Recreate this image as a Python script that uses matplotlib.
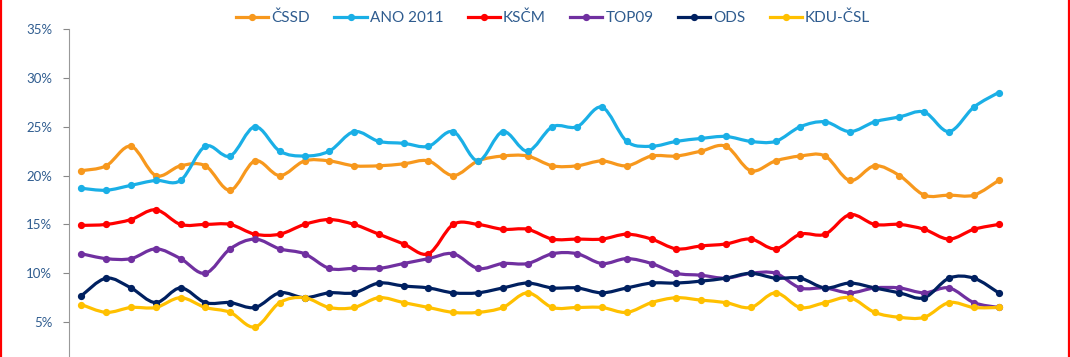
import matplotlib
matplotlib.use("Agg")
import matplotlib.pyplot as plt
import numpy as np
from matplotlib.path import Path
from matplotlib.patches import PathPatch
from matplotlib.lines import Line2D
from matplotlib.ticker import FuncFormatter

plt.rcParams["font.family"] = ["Lato", "DejaVu Sans"]

# průzkumy – 38 měření
PARTIES = ["ČSSD", "ANO 2011", "KSČM", "TOP09", "ODS", "KDU-ČSL"]
COLORS = ["#F7981D", "#1AAFE6", "#FF0000", "#7030A0", "#002060", "#FFC000"]

cssd = [20.5, 21, 23, 20, 21, 21, 18.5, 21.5, 20, 21.5,
        21.5, 21, 21, 21.2, 21.5, 20, 21.5, 22, 22, 21,
        21, 21.5, 21, 22, 22, 22.5, 23, 20.5, 21.5, 22,
        22, 19.5, 21, 20, 18, 18, 18, 19.5]
ano = [18.7, 18.5, 19, 19.5, 19.5, 23, 22, 25, 22.5, 22,
       22.5, 24.5, 23.5, 23.3, 23, 24.5, 21.5, 24.5, 22.5, 25,
       25, 27, 23.5, 23, 23.5, 23.8, 24, 23.5, 23.5, 25,
       25.5, 24.5, 25.5, 26, 26.5, 24.5, 27, 28.5]
kscm = [14.9, 15, 15.5, 16.5, 15, 15, 15, 14, 14, 15,
        15.5, 15, 14, 13, 12, 15, 15, 14.5, 14.5, 13.5,
        13.5, 13.5, 14, 13.5, 12.5, 12.8, 13, 13.5, 12.5, 14,
        14, 16, 15, 15, 14.5, 13.5, 14.5, 15]
top09 = [12, 11.5, 11.5, 12.5, 11.5, 10, 12.5, 13.5, 12.5, 12,
         10.5, 10.5, 10.5, 11, 11.5, 12, 10.5, 11, 11, 12,
         12, 11, 11.5, 11, 10, 9.8, 9.5, 10, 10, 8.5,
         8.5, 8, 8.5, 8.5, 8, 8.5, 7, 6.5]
ods = [7.7, 9.5, 8.5, 7, 8.5, 7, 7, 6.5, 8, 7.5,
       8, 8, 9, 8.7, 8.5, 8, 8, 8.5, 9, 8.5,
       8.5, 8, 8.5, 9, 9, 9.2, 9.5, 10, 9.5, 9.5,
       8.5, 9, 8.5, 8, 7.5, 9.5, 9.5, 8]
kdu = [6.8, 6, 6.5, 6.5, 7.5, 6.5, 6, 4.5, 7, 7.5,
       6.5, 6.5, 7.5, 7, 6.5, 6, 6, 6.5, 8, 6.5,
       6.5, 6.5, 6, 7, 7.5, 7.25, 7, 6.5, 8, 6.5,
       7, 7.5, 6, 5.5, 5.5, 7, 6.5, 6.5]

SERIES = [cssd, ano, kscm, top09, ods, kdu]
TEXT_COLOR = "#2F5C8F"


def _smooth_path(x, y):
    """Vyhlazená čára jako v Excelu (Catmull-Rom -> Bezier)."""
    pts = np.column_stack([x, y]).astype(float)
    n = len(pts)
    verts = [pts[0]]
    codes = [Path.MOVETO]
    for i in range(n - 1):
        p0 = pts[i - 1] if i > 0 else pts[i]
        p1 = pts[i]
        p2 = pts[i + 1]
        p3 = pts[i + 2] if i + 2 < n else pts[i + 1]
        c1 = p1 + (p2 - p0) / 6.0
        c2 = p2 - (p3 - p1) / 6.0
        verts += [c1, c2, p2]
        codes += [Path.CURVE4] * 3
    return Path(verts, codes)


fig = plt.figure(figsize=(10.7, 3.57), dpi=100)
ax = fig.add_axes([69 / 1070, -14 / 357, 942 / 1070, 342 / 357])

x = np.arange(len(cssd))
handles = []
for name, vals, col in zip(PARTIES, SERIES, COLORS):
    vals = np.array(vals) / 100.0
    ax.add_patch(PathPatch(_smooth_path(x, vals), facecolor="none", edgecolor=col,
                           lw=2.3, capstyle="round", joinstyle="round"))
    ax.plot(x, vals, ls="none", marker="o", ms=4.2, color=col)
    handles.append(Line2D([0], [0], color=col, lw=2.3, marker="o", ms=4.2))

ax.set_xlim(-0.5, len(cssd) - 0.5)
ax.set_ylim(0, 0.35)
# 0 % leží pod spodním okrajem obrázku
ax.set_yticks(np.arange(0.05, 0.36, 0.05))
ax.yaxis.set_major_formatter(FuncFormatter(lambda v, _: f"{v * 100:.0f}%"))
ax.tick_params(axis="y", colors="#888888", labelcolor=TEXT_COLOR, labelsize=9.5,
               length=4, pad=8)
ax.set_xticks([])
for s in ["top", "right", "bottom"]:
    ax.spines[s].set_visible(False)
ax.spines["left"].set_color("#999999")

fig.legend(handles, PARTIES, loc="center", bbox_to_anchor=(0.517, 0.95), ncol=6,
           frameon=False, fontsize=11, labelcolor=TEXT_COLOR, handlelength=2.1,
           handletextpad=0.2, columnspacing=1.6)

# červené okraje
fig.add_artist(Line2D([1.5 / 1070, 1.5 / 1070], [0, 1], color="red", lw=1.6))
fig.add_artist(Line2D([1068.5 / 1070, 1068.5 / 1070], [0, 1], color="red", lw=1.6))

fig.savefig("out.png", dpi=100, facecolor="white")
